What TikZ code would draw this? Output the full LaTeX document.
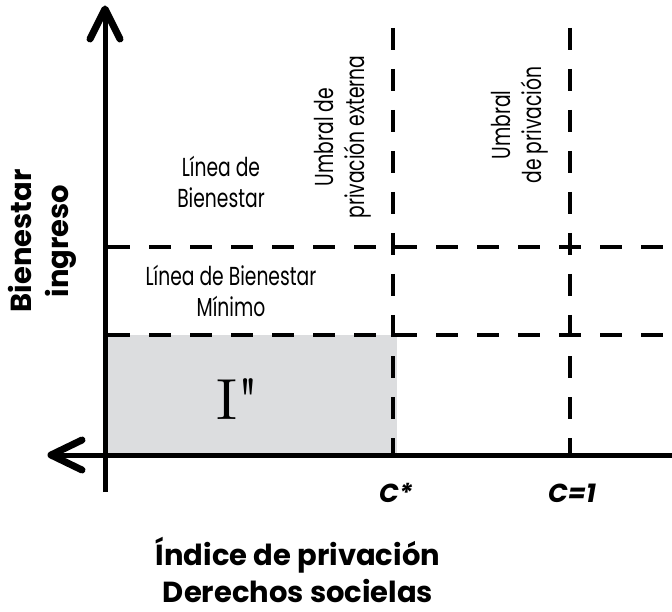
\documentclass[tikz,border=0pt]{standalone}
\usepackage{fontspec}
\newfontfamily\headsans{Poppins}
\newfontfamily\thinsans{Poppins}[FakeStretch=0.72]
\newfontfamily\plainserif{lmroman10-regular.otf}[Ligatures=TeXOff]
\definecolor{regiongray}{HTML}{DCDDDF}
\begin{document}
\begin{tikzpicture}[x=1pt,y=-1pt,
  axisline/.style={line width=5pt},
  chevron/.style={line width=7pt, line cap=round, line join=round},
  guide/.style={line width=4pt, dash pattern=on 22pt off 19pt},
  thinlabel/.style={font=\thinsans\fontsize{26}{31}\selectfont, align=center, inner sep=0pt},
  boldlabel/.style={font=\headsans\bfseries\fontsize{29}{37}\selectfont, align=center, inner sep=0pt},
  ticklabel/.style={font=\headsans\bfseries\itshape\fontsize{26}{30}\selectfont, inner sep=0pt},
  regionlabel/.style={font=\plainserif\fontsize{58}{60}\selectfont, inner sep=0pt}]
\useasboundingbox (0,0) rectangle (672,612);

% shaded region
\fill[regiongray] (108,335) rectangle (397,453);

% guide coordinates
\coordinate (v1t) at (393,28);
\coordinate (v1b) at (393,455);
\coordinate (v2t) at (570,28);
\coordinate (v2b) at (570,455);
\coordinate (h1l) at (108,247);
\coordinate (h1r) at (672,247);
\coordinate (h2l) at (108,335);
\coordinate (h2r) at (672,335);

\draw[guide] (v1t) -- (v1b);
\draw[guide] (v2t) -- (v2b);
\draw[guide] (h1l) -- (h1r);
\draw[guide] (h2l) -- (h2r);

% axes
\coordinate (ybot) at (105,492);
\coordinate (ytop) at (105,9);
\coordinate (ytipl) at (90,39);
\coordinate (ytipr) at (120,39);
\coordinate (xright) at (672,455);
\coordinate (xleft) at (51,455);
\coordinate (xtipu) at (82,440);
\coordinate (xtipd) at (82,470);
\draw[axisline] (ybot) -- (ytop);
\draw[axisline] (xright) -- (xleft);
\draw[chevron] (ytipl) -- (ytop) -- (ytipr);
\draw[chevron] (xtipu) -- (xleft) -- (xtipd);

% labels
\node[thinlabel] (lb) at (221,182) {Línea de\\Bienestar};
\node[thinlabel] (lbm) at (231,291) {Línea de Bienestar\\Mínimo};
\node[thinlabel, rotate=90] (u1) at (343,137) {Umbral de\\privación externa};
\node[thinlabel, rotate=90] (u2) at (520,125) {Umbral\\de privación};
\node[boldlabel, rotate=90] (yl) at (42,241) {Bienestar\\ingreso};
\node[boldlabel] (xl) at (298,570) {Índice de privación\\Derechos socielas};
\node[regionlabel] (ireg) at (238,399) {I"};
\node[ticklabel] (cstar) at (396,493) {C*};
\node[ticklabel] (cone) at (572,493) {C=1};
\end{tikzpicture}
\end{document}
